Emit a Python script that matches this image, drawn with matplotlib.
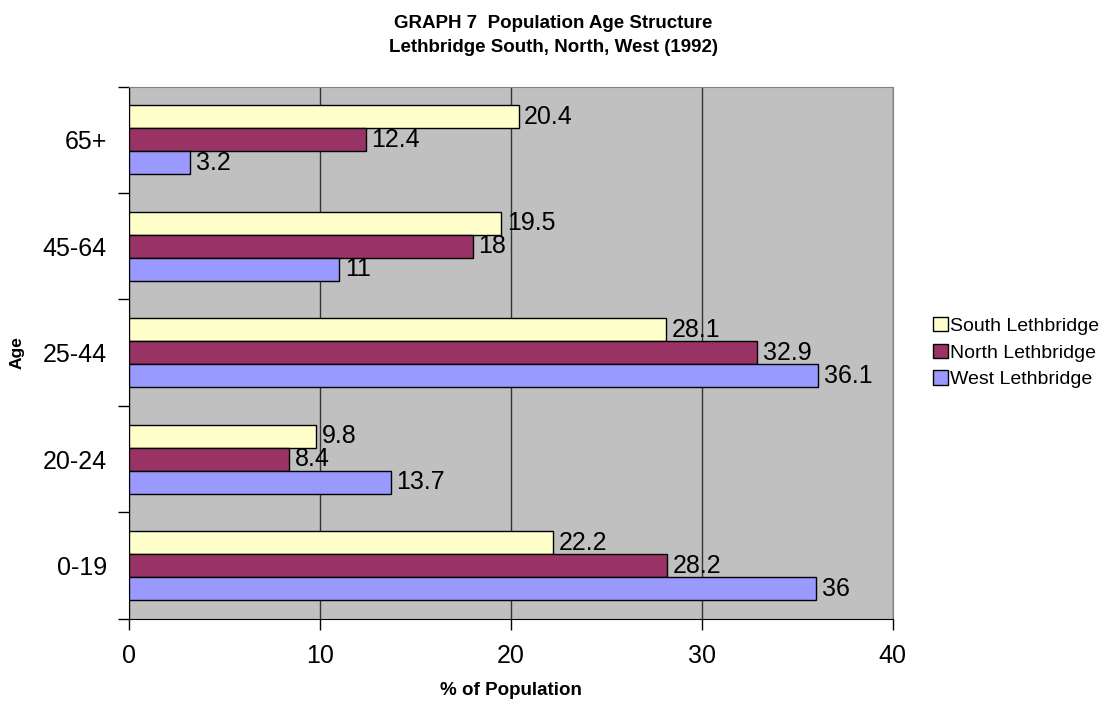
import numpy as np
from matplotlib import pyplot as plt

plt.rcParams['font.family'] = ['Liberation Sans', 'DejaVu Sans']

age_groups = ['0-19', '20-24', '25-44', '45-64', '65+']
south = [22.2, 9.8, 28.1, 19.5, 20.4]
north = [28.2, 8.4, 32.9, 18, 12.4]
west = [36, 13.7, 36.1, 11, 3.2]

series = [
    ('South Lethbridge', south, '#FFFFCC'),
    ('North Lethbridge', north, '#993366'),
    ('West Lethbridge', west, '#9999FF'),
]

fig = plt.figure(figsize=(11.07, 7.04), dpi=100)
ax = fig.add_axes([0.1165, 0.121, 0.690, 0.756])
ax.set_facecolor('#C0C0C0')

y = np.arange(len(age_groups))
h = 0.216

for i, (name, values, color) in enumerate(series):
    pos = y + (1 - i) * h
    bars = ax.barh(pos, values, height=h, color=color, edgecolor='black',
                   linewidth=1, label=name, zorder=3)
    for b, v in zip(bars, values):
        ax.text(b.get_width() + 0.3, b.get_y() + h / 2, f'{v:g}',
                va='center', ha='left', fontsize=18, zorder=4)

ax.set_xlim(0, 40)
ax.set_ylim(-0.5, len(age_groups) - 0.5)
ax.set_xticks([0, 10, 20, 30, 40])
ax.set_yticks(y)
ax.set_yticklabels(age_groups)
ax.set_yticks(np.arange(-0.5, len(age_groups), 1), minor=True)
ax.tick_params(axis='y', which='major', length=0, labelsize=18, pad=16)
ax.tick_params(axis='y', which='minor', length=8, direction='out', width=1)
ax.tick_params(axis='x', length=8, direction='out', width=1, labelsize=18, pad=10)

ax.grid(axis='x', color='#333333', linewidth=1, zorder=1)
for side in ['top', 'right']:
    ax.spines[side].set_color('#808080')
for side in ['left', 'bottom']:
    ax.spines[side].set_color('black')

ax.set_xlabel('% of Population', fontsize=13.5, fontweight='bold', va='center')
ax.xaxis.set_label_coords(0.5, -0.134)
ax.set_ylabel('Age', fontsize=12.5, fontweight='bold', va='center')
ax.yaxis.set_label_coords(-0.147, 0.5)
fig.suptitle('GRAPH 7  Population Age Structure\nLethbridge South, North, West (1992)',
             fontsize=13.5, fontweight='bold', y=0.978, linespacing=1.5)

handles, labels = ax.get_legend_handles_labels()
ax.legend(handles, labels, loc='center left', bbox_to_anchor=(1.03, 0.5),
          frameon=False, fontsize=14, handlelength=0.77, handleheight=0.77,
          handletextpad=0.1, labelspacing=0.45)

fig.savefig('out.png', dpi=100)
